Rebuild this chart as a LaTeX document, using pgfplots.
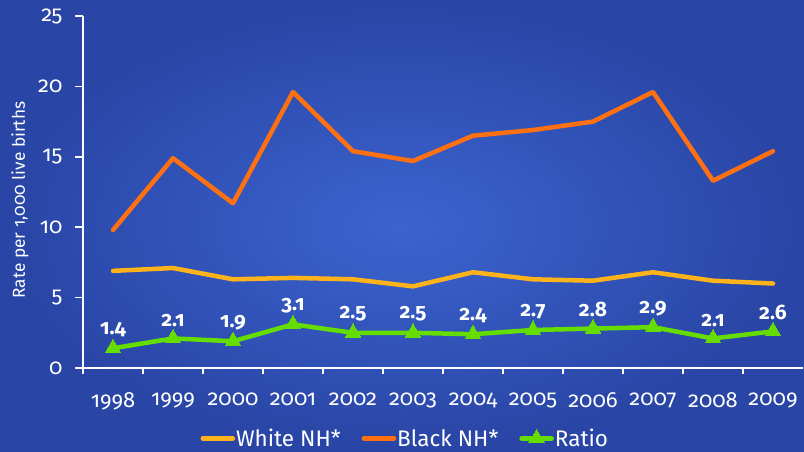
\documentclass[border=0pt]{standalone}
\usepackage{fontspec}
\setmainfont{Fira Sans}[Numbers=OldStyle]
\usepackage{pgfplots}
\usepackage{pgfplotstable}
\pgfplotsset{compat=1.18}

\definecolor{bgin}{HTML}{3B64D0}
\definecolor{bgout}{HTML}{2945A5}
\definecolor{whiteNH}{HTML}{FFB31A}
\definecolor{blackNH}{HTML}{FF7011}
\definecolor{ratio}{HTML}{66DD00}

\pgfplotstableread{
x year white black ratio
0  1998 6.9 9.8  1.4
1  1999 7.1 14.9 2.1
2  2000 6.3 11.7 1.9
3  2001 6.4 19.6 3.1
4  2002 6.3 15.4 2.5
5  2003 5.8 14.7 2.5
6  2004 6.8 16.5 2.4
7  2005 6.3 16.9 2.7
8  2006 6.2 17.5 2.8
9  2007 6.8 19.6 2.9
10 2008 6.2 13.3 2.1
11 2009 6.0 15.4 2.6
}\data

\begin{document}
\begin{tikzpicture}
% background
\shade[inner color=bgin, outer color=bgout] (0pt,0pt) rectangle (804pt,451pt);
\begin{axis}[
    at={(83pt,83pt)}, anchor=south west,
    scale only axis, width=720pt, height=352pt,
    xmin=-0.5, xmax=11.5, ymin=0, ymax=25,
    axis lines*=left,
    axis line style={white, line width=1.8pt, -},
    every tick/.style={white, line width=1.5pt},
    tick align=outside,
    xtick={0,...,11},
    xticklabels={1998,1999,2000,2001,2002,2003,2004,2005,2006,2007,2008,2009},
    major x tick style={draw=none},
    minor xtick={-0.5,0.5,...,10.5},
    minor tick length=6pt,
    ytick={0,5,...,25},
    major tick length=8pt,
    /pgf/number format/assume math mode=true,
    ticklabel style={text=white, font=\fontsize{22}{25}\selectfont},
    xticklabel style={yshift=-13pt},
    yticklabel style={xshift=-9pt},
    ylabel={Rate per 1,000 live births},
    ylabel style={at={(axis description cs:-0.0875,0.477)}, anchor=center,
        text=white, font=\fontsize{17.3}{20}\selectfont},
    clip=false,
    legend columns=3,
    legend style={at={(0.447,-0.2)}, anchor=center, draw=none, fill=none,
        text=white, font=\fontsize{22.5}{25}\selectfont,
        nodes={inner xsep=1pt},
        /tikz/every even column/.append style={column sep=20pt}},
    legend image code/.code={
        \draw[#1, mark repeat=2, mark phase=2] plot coordinates {(0pt,0pt) (15pt,0pt) (30pt,0pt)};
    },
    every axis plot/.append style={line width=4.5pt, line join=round, line cap=round},
]
\addplot[whiteNH, no marks] table[x=x, y=white] {\data};
\addlegendentry{White NH*}
\addplot[blackNH, no marks] table[x=x, y=black] {\data};
\addlegendentry{Black NH*}
\addplot[ratio, mark=triangle*, mark size=9pt, mark options={line width=0pt, solid},
    nodes near coords,
    nodes near coords style={text=white, font=\bfseries\fontsize{21}{24}\selectfont, anchor=south, yshift=8pt,
        /pgf/number format/.cd, fixed, precision=1, zerofill}]
    table[x=x, y=ratio] {\data};
\addlegendentry{Ratio}
\end{axis}
\pgfresetboundingbox
\path[use as bounding box] (0pt,0pt) rectangle (804pt,451pt);
\end{tikzpicture}
\end{document}
